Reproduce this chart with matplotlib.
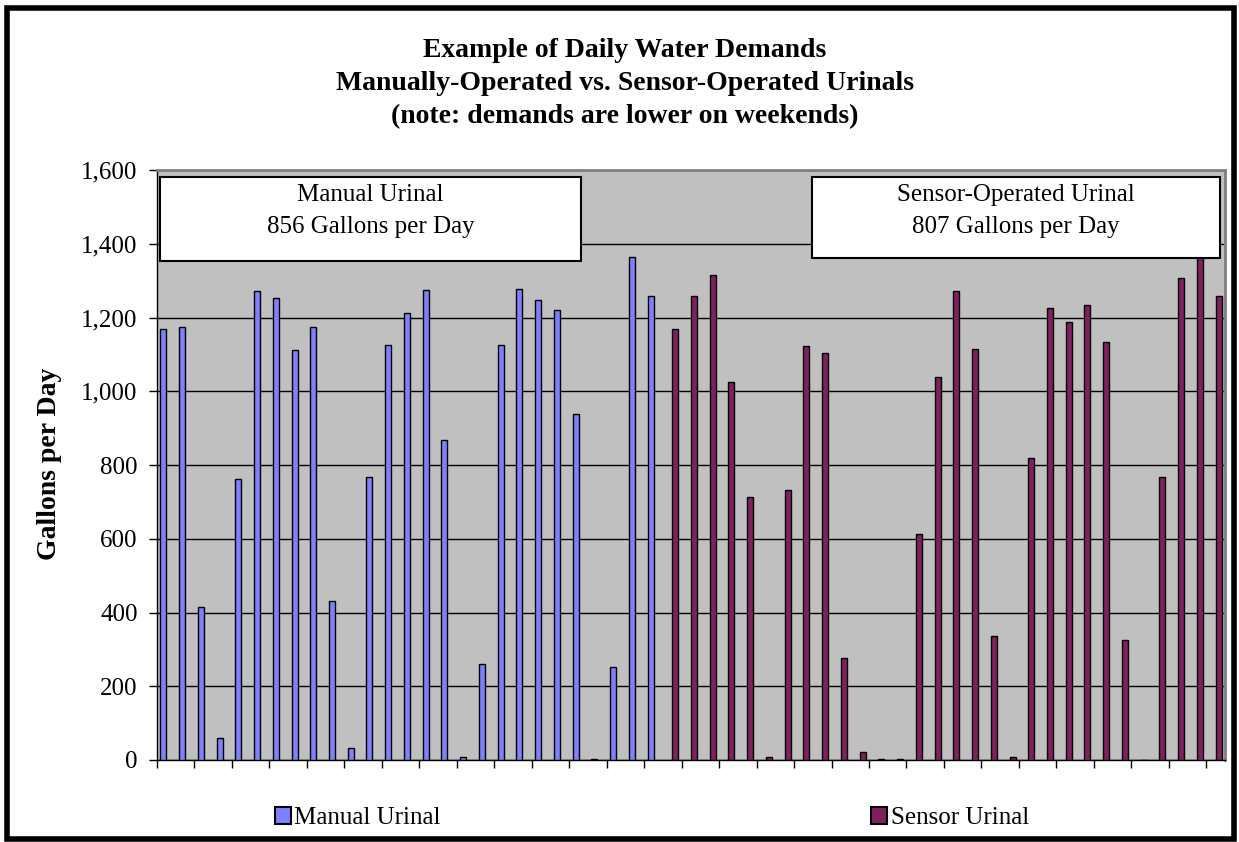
import numpy as np
import matplotlib
matplotlib.use("Agg")
import matplotlib.pyplot as plt
from matplotlib.patches import Rectangle, Patch

plt.rcParams['font.family'] = ['Liberation Serif', 'DejaVu Serif']

# daily demands (gallons), manual days first then sensor days
manual = [1168, 1175, 414, 60, 763, 1272, 1252, 1112, 1175, 432, 33, 767,
          1125, 1212, 1274, 869, 8, 260, 1125, 1276, 1247, 1219, 938, 2,
          253, 1364, 1258]
sensor = [1168, 1259, 1316, 1024, 713, 7, 732, 1124, 1104, 277, 21, 2, 2,
          614, 1038, 1271, 1114, 337, 9, 818, 1227, 1187, 1235, 1133, 325,
          0, 767, 1308, 1370, 1258]
yticks = [0, 200, 400, 600, 800, 1000, 1200, 1400, 1600]
title_lines = ['Example of Daily Water Demands',
               'Manually-Operated vs. Sensor-Operated Urinals',
               '(note: demands are lower on weekends)']

W, H = 1239, 842
n_man = len(manual)
n_all = n_man + len(sensor)
x_man = np.arange(n_man)
x_sen = np.arange(n_man, n_all)

fig = plt.figure(figsize=(W / 100, H / 100), dpi=100)
ax = fig.add_axes([157 / W, 1 - 760 / H, (1225 - 157) / W, (760 - 170) / H])
ax.set_facecolor('#c0c0c0')

w = 0.32
ax.bar(x_man - w / 2, manual, width=w, color='#8080ff', edgecolor='black',
       linewidth=1, zorder=3)
ax.bar(x_sen + w / 2, sensor, width=w, color='#80205f', edgecolor='black',
       linewidth=1, zorder=3)

ax.set_xlim(-0.5, n_all - 0.5)
ax.set_ylim(0, 1600)
ax.set_yticks(yticks)
ax.set_yticklabels(['{:,}'.format(v) for v in yticks], fontsize=18)
ax.set_xticks(np.arange(-0.5, n_all - 0.5, 2))
ax.set_xticklabels([])
ax.tick_params(axis='both', direction='out', length=6, width=1, color='black')
ax.tick_params(axis='y', pad=8)
ax.yaxis.grid(True, color='black', linewidth=1, zorder=1)
ax.set_axisbelow(True)
for s in ax.spines.values():
    s.set_color('#808080')
    s.set_linewidth(2)
ax.spines['left'].set_color('black')
ax.spines['left'].set_linewidth(1)
ax.spines['bottom'].set_color('black')
ax.spines['bottom'].set_linewidth(1)

fig.text(50 / W, 1 - 464 / H, 'Gallons per Day', rotation=90, ha='center',
         va='center', fontsize=20, fontweight='bold')

for i, line in enumerate(title_lines):
    fig.text(625 / W, 1 - (57 + 33 * i) / H, line, ha='center',
             va='baseline', fontsize=20, fontweight='bold')


# note boxes
def note_box(x0, y0, x1, y1, lines):
    fig.patches.append(Rectangle((x0 / W, 1 - y1 / H), (x1 - x0) / W,
                                 (y1 - y0) / H, transform=fig.transFigure,
                                 facecolor='white', edgecolor='black',
                                 linewidth=1.5, zorder=5))
    for i, t in enumerate(lines):
        fig.text((x0 + x1) / 2 / W, 1 - (y0 + 24 + 32 * i) / H, t,
                 ha='center', va='baseline', fontsize=18, zorder=6)


note_box(160, 177, 581, 261, ['Manual Urinal', '856 Gallons per Day'])
note_box(812, 177, 1220, 258, ['Sensor-Operated Urinal', '807 Gallons per Day'])

handles = [Patch(facecolor='#8080ff', edgecolor='black', linewidth=1.5),
           Patch(facecolor='#80205f', edgecolor='black', linewidth=1.5)]
fig.legend(handles, ['Manual Urinal', 'Sensor Urinal'], loc='center left',
           bbox_to_anchor=(262 / W, 1 - 818 / H), ncol=2, frameon=False,
           fontsize=18, borderpad=0, handlelength=0.64, handleheight=0.64,
           handletextpad=0.16, columnspacing=17.2)

# outer chart frame
fig.patches.append(Rectangle((0.006, 0.004), 0.99, 0.987,
                             transform=fig.transFigure, fill=False,
                             edgecolor='black', linewidth=4))

fig.savefig('out.png', dpi=100)
